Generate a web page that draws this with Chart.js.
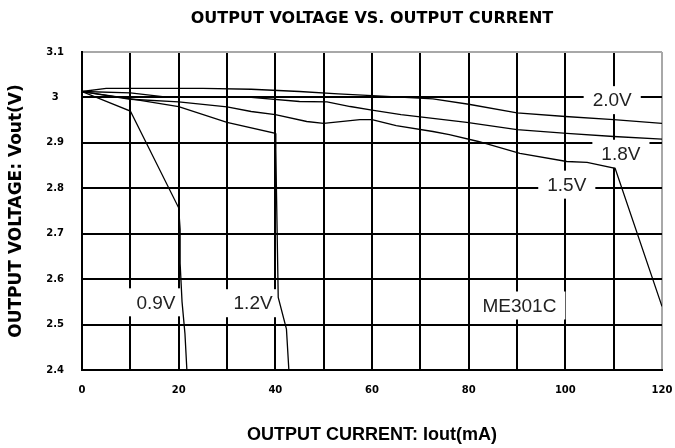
<!DOCTYPE html>
<html>
<head>
<meta charset="utf-8">
<title>Output Voltage vs Output Current</title>
<script src="https://cdn.jsdelivr.net/npm/chart.js@4.4.1/dist/chart.umd.min.js"></script>
<style>
    html, body { margin: 0; padding: 0; background: #fff; }
    #wrap { width: 675px; height: 448px; position: relative; }
</style>
</head>
<body>
<div id="wrap"><canvas id="vChart"></canvas></div>
<script>
// Output current (mA) and output voltage (V) for each input voltage
const mA09 = [0, 10, 20, 20.3, 20.3, 20.7, 21.3, 21.7];
const v09 = [3.013, 2.97, 2.757, 2.71, 2.635, 2.55, 2.48, 2.4];

const mA12 = [0, 9.5, 20, 30, 40, 40.1, 40.2, 40.6, 42.3, 42.8];
const v12 = [3.013, 2.998, 2.98, 2.945, 2.921, 2.885, 2.815, 2.56, 2.49, 2.4];

const mA15 = [0, 10, 20, 30, 35, 40, 46.5, 50, 57.5, 60, 65, 72.6, 76, 82, 90.6, 100.3, 104.5, 110.3, 120];
const v15 = [3.013, 2.996, 2.99, 2.979, 2.969, 2.962, 2.947, 2.943, 2.951, 2.951, 2.938, 2.925, 2.918, 2.903, 2.877, 2.859, 2.857, 2.844, 2.54];

const mA18 = [0, 10, 18, 35, 45, 50.7, 55.5, 60, 66, 72.6, 79.6, 90, 100.3, 110, 120];
const v18 = [3.013, 3.01, 3.0, 3.0, 2.991, 2.99, 2.98, 2.972, 2.962, 2.954, 2.945, 2.929, 2.921, 2.914, 2.908];

const mA20 = [0, 5, 25, 35, 45, 53, 62, 72.6, 80, 90, 100, 110, 120];
const v20 = [3.013, 3.02, 3.02, 3.018, 3.013, 3.008, 3.003, 2.997, 2.985, 2.966, 2.958, 2.951, 2.943];

const seriesNames = ['0.9V', '1.2V', '1.5V', '1.8V', '2.0V'];

// Text notes written inside the plot
const noteText = ['0.9V', '1.2V', 'ME301C', '1.5V', '1.8V', '2.0V'];
const noteX = [15.3, 35.4, 90.5, 100.3, 111.5, 109.7];
const noteY = [2.549, 2.547, 2.542, 2.808, 2.876, 2.994];

const xMin = 0, xMax = 120, xStep = 10;
const yMin = 2.4, yMax = 3.1, yStep = 0.1;

function toPoints(xs, ys) {
    return xs.map((x, i) => ({ x: x, y: ys[i] }));
}

const curves = [[mA09, v09], [mA12, v12], [mA15, v15], [mA18, v18], [mA20, v20]];

// white boxes with the notes, over the grid but under the curves
const noteLabels = {
    id: 'noteLabels',
    beforeDatasetsDraw(chart) {
        const { ctx, scales: { x, y } } = chart;
        ctx.save();
        ctx.font = '19px "Liberation Sans", Arial, sans-serif';
        ctx.textAlign = 'center';
        ctx.textBaseline = 'middle';
        noteText.forEach((t, i) => {
            const px = x.getPixelForValue(noteX[i]);
            const py = y.getPixelForValue(noteY[i]);
            const w = ctx.measureText(t).width + 18;
            ctx.fillStyle = '#fff';
            ctx.fillRect(px - w / 2, py - 14, w, 28);
            ctx.fillStyle = '#222';
            ctx.fillText(t, px, py + 1);
        });
        ctx.restore();
    }
};

const tickFont = { family: '"DejaVu Sans", sans-serif', size: 10, weight: 'bold' };

new Chart(document.getElementById('vChart'), {
    type: 'scatter',
    data: {
        datasets: curves.map((c, i) => ({
            label: seriesNames[i],
            data: toPoints(c[0], c[1]),
            showLine: true,
            borderColor: '#000',
            borderWidth: 1.3,
            pointRadius: 0,
            pointHoverRadius: 0,
            tension: 0,
        })),
    },
    options: {
        responsive: true,
        maintainAspectRatio: false,
        animation: false,
        events: [],
        layout: { padding: { left: 0, right: 13, top: 0, bottom: 0 } },
        plugins: {
            legend: { display: false },
            tooltip: { enabled: false },
            title: {
                display: true,
                fullSize: false,
                text: 'OUTPUT VOLTAGE VS. OUTPUT CURRENT',
                color: '#000',
                font: { family: '"DejaVu Sans", sans-serif', size: 16, weight: 'bold' },
                padding: { top: 9, bottom: 23.8 },
            },
        },
        scales: {
            x: {
                type: 'linear',
                min: xMin,
                max: xMax,
                afterFit: (s) => {
                    s.height = 78;
                    s.paddingLeft = 0;
                    s.paddingRight = 13;
                },
                ticks: {
                    stepSize: xStep,
                    autoSkip: false,
                    maxRotation: 0,
                    padding: 14,
                    color: '#000',
                    font: tickFont,
                    callback: (v) => (v % 20 === 0 ? String(v) : ''),
                },
                grid: {
                    drawTicks: false,
                    lineWidth: 2,
                    color: (ctx) => (ctx.tick && ctx.tick.value === xMax ? '#a8a8a8' : '#000'),
                },
                border: { color: '#000', width: 2 },
                title: {
                    display: true,
                    text: 'OUTPUT CURRENT: Iout(mA)',
                    color: '#000',
                    font: { family: '"Liberation Sans Narrow", "Liberation Sans", Arial, sans-serif', size: 18, weight: 'bold' },
                    padding: { top: 0, bottom: 2 },
                },
            },
            y: {
                min: yMin,
                max: yMax,
                afterFit: (s) => { s.width = 82; },
                ticks: {
                    stepSize: yStep,
                    crossAlign: 'center',
                    padding: 18,
                    color: '#000',
                    font: tickFont,
                    callback: (v) => String(Number(v.toFixed(1))),
                },
                grid: {
                    drawTicks: false,
                    lineWidth: 2,
                    color: (ctx) => (ctx.tick && Math.abs(ctx.tick.value - yMax) < 1e-6 ? '#a8a8a8' : '#000'),
                },
                border: { color: '#000', width: 2 },
                title: {
                    display: true,
                    text: 'OUTPUT VOLTAGE: Vout(V)',
                    color: '#000',
                    font: { family: '"DejaVu Sans", sans-serif', size: 17, weight: 'bold' },
                    padding: { top: 6, bottom: 0 },
                },
            },
        },
    },
    plugins: [noteLabels],
});
</script>
</body>
</html>
